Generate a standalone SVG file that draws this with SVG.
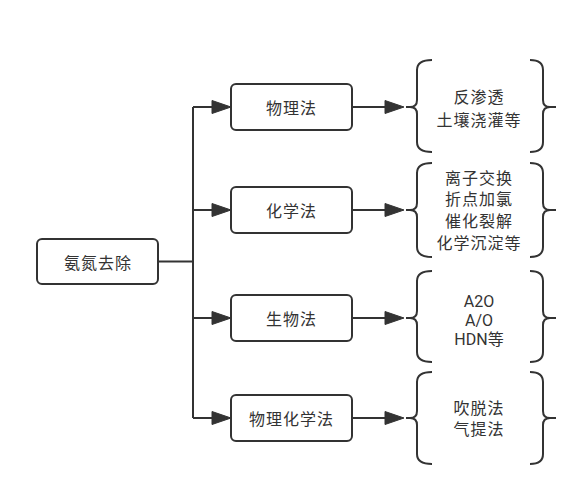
<svg xmlns="http://www.w3.org/2000/svg" width="587" height="489" viewBox="0 0 587 489">
<style>
.box{fill:#fff;stroke:#333;stroke-width:2}
.ln{fill:none;stroke:#333;stroke-width:2}
.br{fill:none;stroke:#333;stroke-width:2;stroke-linejoin:round}
.ah{fill:#333;stroke:#333;stroke-width:1;stroke-linejoin:round}
text{font-family:"Noto Sans CJK SC","Noto Sans",sans-serif;font-size:16px;fill:#333;text-anchor:middle;dominant-baseline:central;letter-spacing:1px}
text.lat{font-family:Roboto,"Noto Sans CJK SC",sans-serif;letter-spacing:0}
</style>
<rect width="587" height="489" fill="#fff"/>
<g id="connectors">
<path class="ln" d="M158,261.5 H193 M193,107 V418 M193,107 H214 M193,210 H214 M193,318 H214 M193,418 H214"/>
<path class="ah" d="M212,100.5 L231,107 L212,113.5 Z"/>
<path class="ah" d="M212,203.5 L231,210 L212,216.5 Z"/>
<path class="ah" d="M212,311.5 L231,318 L212,324.5 Z"/>
<path class="ah" d="M212,411.5 L231,418 L212,424.5 Z"/>
<path class="ln" d="M352,107 H388 M352,210 H388 M352,318 H388 M352,418 H388"/>
<path class="ah" d="M385,100.5 L404,107 L385,113.5 Z"/>
<path class="ah" d="M385,203.5 L404,210 L385,216.5 Z"/>
<path class="ah" d="M385,311.5 L404,318 L385,324.5 Z"/>
<path class="ah" d="M385,411.5 L404,418 L385,424.5 Z"/>
</g>
<g id="root">
<rect class="box" x="37" y="239" width="121" height="45" rx="5"/>
<text x="98" y="261.5">氨氮去除</text>
</g>
<g id="n1">
<rect class="box" x="231" y="84" width="121" height="46" rx="5"/>
<text x="291.5" y="107">物理法</text>
</g>
<g id="n2">
<rect class="box" x="231" y="187" width="121" height="46" rx="5"/>
<text x="291.5" y="210">化学法</text>
</g>
<g id="n3">
<rect class="box" x="231" y="295" width="121" height="46" rx="5"/>
<text x="291.5" y="318">生物法</text>
</g>
<g id="n4">
<rect class="box" x="231" y="395" width="121" height="46" rx="5"/>
<text x="291.5" y="418">物理化学法</text>
</g>
<g id="b1">
<path class="br" d="M432,60 Q417,60 417,70 L417,100 Q417,107 410,107 L406,107 M410,107 Q417,107 417,114 L417,142 Q417,152 432,152"/>
<path class="br" d="M530,60 Q543,60 543,70 L543,100 Q543,107 550,107 L556,107 M550,107 Q543,107 543,114 L543,142 Q543,152 530,152"/>
<text x="479" y="96">反渗透</text>
<text x="479" y="119">土壤浇灌等</text>
</g>
<g id="b2">
<path class="br" d="M432,163 Q417,163 417,173 L417,203 Q417,210 410,210 L406,210 M410,210 Q417,210 417,217 L417,247 Q417,257 432,257"/>
<path class="br" d="M530,163 Q543,163 543,173 L543,203 Q543,210 550,210 L556,210 M550,210 Q543,210 543,217 L543,247 Q543,257 530,257"/>
<text x="479" y="176.7">离子交换</text>
<text x="479" y="198.3">折点加氯</text>
<text x="479" y="220">催化裂解</text>
<text x="479" y="241.7">化学沉淀等</text>
</g>
<g id="b3">
<path class="br" d="M432,271 Q417,271 417,281 L417,311 Q417,318 410,318 L406,318 M410,318 Q417,318 417,325 L417,352 Q417,362 432,362"/>
<path class="br" d="M530,271 Q543,271 543,281 L543,311 Q543,318 550,318 L556,318 M550,318 Q543,318 543,325 L543,352 Q543,362 530,362"/>
<text class="lat" x="479" y="301">A2O</text>
<text class="lat" x="479" y="320">A/O</text>
<text class="lat" x="479" y="339">HDN等</text>
</g>
<g id="b4">
<path class="br" d="M432,372 Q417,372 417,382 L417,411 Q417,418 410,418 L406,418 M410,418 Q417,418 417,425 L417,454 Q417,464 432,464"/>
<path class="br" d="M530,372 Q543,372 543,382 L543,411 Q543,418 550,418 L556,418 M550,418 Q543,418 543,425 L543,454 Q543,464 530,464"/>
<text x="479" y="406.7">吹脱法</text>
<text x="479" y="428.3">气提法</text>
</g>
</svg>
